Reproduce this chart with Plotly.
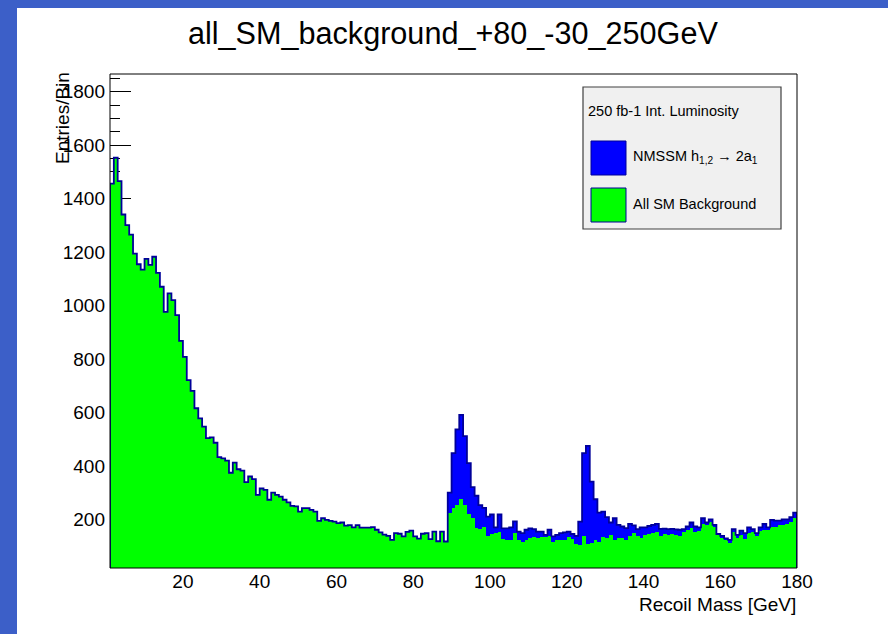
import plotly.graph_objects as go

# ---- histogram contents: 1 GeV bins, lower edges 1 .. 179 GeV ----
bin_low = list(range(1, 180))

background = [
    1456, 1553, 1466, 1341, 1301, 1266, 1195, 1155, 1135, 1175,
    1153, 1183, 1123, 1071, 977, 1046, 1021, 965, 869, 809,
    722, 682, 617, 579, 548, 505, 508, 488, 434, 430,
    421, 376, 414, 389, 384, 341, 362, 352, 293, 317,
    312, 275, 302, 293, 287, 275, 265, 252, 250, 231,
    244, 244, 237, 231, 196, 206, 200, 196, 193, 188,
    190, 178, 180, 172, 180, 171, 171, 171, 173, 163,
    153, 145, 140, 125, 150, 148, 138, 155, 160, 138,
    130, 148, 150, 128, 156, 120, 156, 119,
    225, 244, 256, 277, 256, 222, 206, 170, 165, 172,
    140, 146, 150, 155, 128, 125, 125, 150, 125, 116,
    126, 133, 135, 132, 134, 135, 138, 119, 123, 125, 125,
    135, 128, 110, 106, 138, 110, 113, 123, 119, 135,
    131, 144, 125, 131, 131, 125, 138, 150, 138, 131,
    144, 147, 150, 156, 140, 147, 144, 147, 145, 140,
    156, 163, 169, 156, 160, 185, 181, 193, 172, 144,
    135, 125, 115, 156, 131, 144, 128, 150, 156, 140,
    160, 163, 165, 175, 175, 181, 181, 185, 193, 206,
]

signal = [0] * 88 + [
    77, 205, 282, 315, 257, 190, 116, 120, 90, 73,
    72, 74, 22, 65, 40, 43, 47, 44, 31, 34,
    37, 35, 30, 24, 22, 9, 25, 19, 21, 25, 28,
    21, 19, 30, 87, 311, 366, 230, 154, 108, 96,
    79, 46, 81, 50, 44, 44, 47, 29, 27, 41,
    28, 30, 31, 29, 26, 20, 21, 19, 19, 23,
    9, 12, 21, 19, 12, 21, 9, 9, 9, 3,
    5, 6, 10, 9, 13, 16, 22, 22, 9, 10,
    12, 22, 7, 25, 22, 16, 21, 17, 17, 21,
]

x_tick_vals = [20, 40, 60, 80, 100, 120, 140, 160, 180]
y_tick_vals = [200, 400, 600, 800, 1000, 1200, 1400, 1600, 1800]

title_text = "all_SM_background_+80_-30_250GeV"
x_title = "Recoil Mass [GeV]"
y_title = "Entries/Bin"
legend_header = "250 fb-1 Int. Luminosity"
legend_signal = "NMSSM h<sub>1,2</sub> \u2192 2a<sub>1</sub>"
legend_bkg = "All SM Background"

# ---- page geometry (pixels) ----
W, H = 888, 634
L, R, T, B = 110, 797, 74, 568
FONT = "Liberation Sans, Arial, Helvetica, sans-serif"

def px(xp):
    return (xp - L) / (R - L)

def py(yp):
    return (B - yp) / (B - T)

centers = [b + 0.5 for b in bin_low]
stack_top = [bg + s for bg, s in zip(background, signal)]

fig = go.Figure()
fig.add_trace(go.Bar(
    x=centers, y=background, width=1.0,
    marker=dict(color="#00ff00", line=dict(width=0)),
    name=legend_bkg, showlegend=False,
))
fig.add_trace(go.Bar(
    x=centers, y=signal, width=1.0,
    marker=dict(color="#0000ff", line=dict(width=0)),
    name="NMSSM", showlegend=False,
))
# step outline of the stacked total
edges = [bin_low[0]] + bin_low + [bin_low[-1] + 1, bin_low[-1] + 1]
outline_y = [0] + stack_top + [stack_top[-1], 0]
fig.add_trace(go.Scatter(
    x=edges, y=outline_y, mode="lines",
    line=dict(shape="hv", color="#000099", width=1.8),
    showlegend=False, hoverinfo="skip",
))

shapes = []
# blue window strips
strip = "#3c5fc8"
shapes.append(dict(type="rect", xref="paper", yref="paper",
                   x0=px(0), x1=px(17), y0=py(H), y1=py(0),
                   fillcolor=strip, line=dict(width=0), layer="below"))
shapes.append(dict(type="rect", xref="paper", yref="paper",
                   x0=px(0), x1=px(W), y0=py(8), y1=py(0),
                   fillcolor=strip, line=dict(width=0), layer="below"))
# frame
shapes.append(dict(type="rect", xref="paper", yref="paper",
                   x0=0, x1=1, y0=0, y1=1,
                   line=dict(color="black", width=1), fillcolor="rgba(0,0,0,0)",
                   layer="above"))
# legend box
shapes.append(dict(type="rect", xref="paper", yref="paper",
                   x0=px(583), x1=px(781), y0=py(229), y1=py(87),
                   fillcolor="#f0f0f0", line=dict(color="#404040", width=1.2),
                   layer="above"))
shapes.append(dict(type="rect", xref="paper", yref="paper",
                   x0=px(591), x1=px(626), y0=py(175), y1=py(141),
                   fillcolor="#0000ff", line=dict(color="#000099", width=1),
                   layer="above"))
shapes.append(dict(type="rect", xref="paper", yref="paper",
                   x0=px(591), x1=px(626), y0=py(222), y1=py(188),
                   fillcolor="#00ff00", line=dict(color="#000099", width=1),
                   layer="above"))

annotations = [
    dict(text=title_text, x=px(453), y=py(34), xref="paper", yref="paper",
         xanchor="center", yanchor="middle", showarrow=False,
         font=dict(family=FONT, size=30.6, color="black")),
    dict(text=x_title, x=px(798), y=py(604), xref="paper", yref="paper",
         xanchor="right", yanchor="middle", showarrow=False,
         font=dict(family=FONT, size=19, color="black")),
    dict(text=y_title, x=px(63), y=py(70), xref="paper", yref="paper",
         xanchor="center", yanchor="top", textangle=-90, showarrow=False,
         font=dict(family=FONT, size=19, color="black")),
    dict(text=legend_header, x=px(586), y=py(111), xref="paper", yref="paper",
         xanchor="left", yanchor="middle", showarrow=False,
         font=dict(family=FONT, size=14.5, color="black")),
    dict(text=legend_signal, x=px(631), y=py(157), xref="paper", yref="paper",
         xanchor="left", yanchor="middle", showarrow=False,
         font=dict(family=FONT, size=14.5, color="black")),
    dict(text=legend_bkg, x=px(631), y=py(204), xref="paper", yref="paper",
         xanchor="left", yanchor="middle", showarrow=False,
         font=dict(family=FONT, size=14.5, color="black")),
]

fig.update_layout(
    template="none",
    width=W, height=H,
    margin=dict(l=L, r=W - R, t=T, b=H - B, pad=0),
    paper_bgcolor="white", plot_bgcolor="white",
    barmode="stack", bargap=0, bargroupgap=0,
    showlegend=False,
    shapes=shapes, annotations=annotations,
    xaxis=dict(
        range=[1, 180], tickmode="array", tickvals=x_tick_vals,
        ticks="inside", ticklen=15, tickcolor="black", showgrid=False,
        zeroline=False, showline=False, layer="below traces",
        tickfont=dict(family=FONT, size=19, color="black"),
        automargin=False,
    ),
    yaxis=dict(
        range=[20, 1866], tickmode="array", tickvals=y_tick_vals,
        ticks="inside", ticklen=21, tickcolor="black", showgrid=False,
        zeroline=False, showline=False, layer="below traces",
        minor=dict(dtick=50, tick0=0, ticks="inside", ticklen=10, tickcolor="black"),
        tickfont=dict(family=FONT, size=19, color="black"),
        ticklabelstandoff=4, automargin=False,
    ),
)

fig.write_html("out.html")
